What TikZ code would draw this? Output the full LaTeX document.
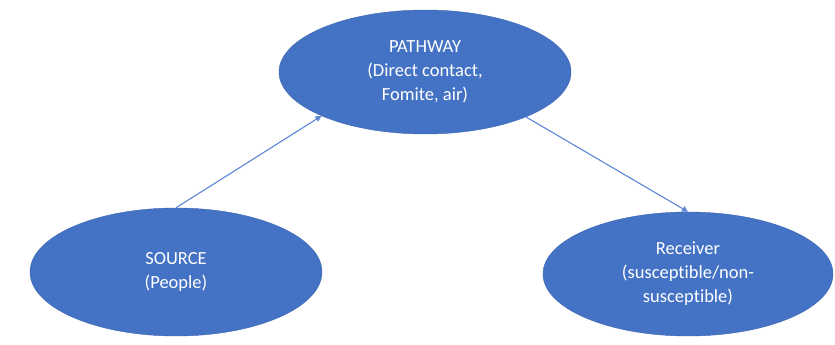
\documentclass[tikz,border=0pt]{standalone}
\usepackage{fontspec}
\setmainfont[Ligatures=CommonOff]{Carlito}
\usetikzlibrary{shapes.geometric,arrows.meta}
\definecolor{officeblue}{HTML}{4472C4}
\definecolor{arrowblue}{HTML}{5B87D6}
\tikzset{
  blob/.style={ellipse, fill=officeblue, draw=officeblue!90!black, line width=0.4pt, inner sep=0pt,
    text=white, align=center, font=\fontsize{18.5}{24}\selectfont},
  conn/.style={draw=arrowblue, line width=1.1pt, -{Triangle[length=6pt,width=6pt]}}
}
\begin{document}
\begin{tikzpicture}[x=1pt,y=-1pt]
\useasboundingbox (0,0) rectangle (835,345);
\node[blob, minimum width=292pt, minimum height=124pt] (path) at (425,72)
  {PATHWAY\\(Direct contact,\\Fomite, air)};
\node[blob, minimum width=292pt, minimum height=128pt] (src) at (176,272)
  {SOURCE\\(People)};
\node[blob, minimum width=290pt, minimum height=124pt] (rcv) at (688,274)
  {Receiver\\(susceptible/non-\\susceptible)};
\draw[conn] (src.north) -- (path.203.3);
\draw[conn] (path.336.8) -- (rcv.north);
\end{tikzpicture}
\end{document}
